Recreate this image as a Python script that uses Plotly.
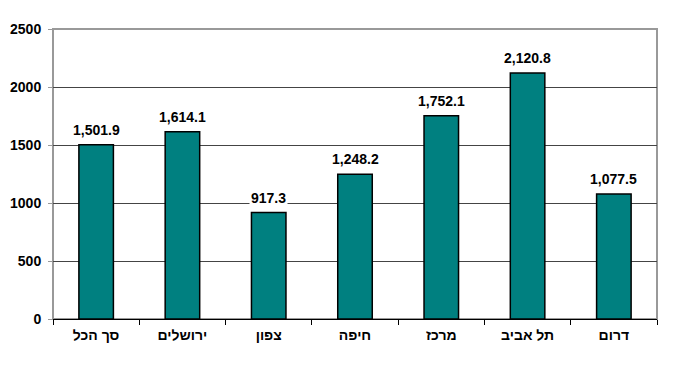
import plotly.graph_objects as go

categories = ["סך הכל", "ירושלים", "צפון", "חיפה", "מרכז", "תל אביב", "דרום"]
values = [1501.9, 1614.1, 917.3, 1248.2, 1752.1, 2120.8, 1077.5]
y_ticks = [0, 500, 1000, 1500, 2000, 2500]

FONT = "Liberation Sans, Arial, sans-serif"

fig = go.Figure()
fig.add_trace(go.Bar(
    x=categories, y=values,
    marker=dict(color="#008080", line=dict(color="#000000", width=1.5)),
    width=0.4,
    hoverinfo="skip",
))

annotations = []
for c, v in zip(categories, values):
    annotations.append(dict(
        x=c, y=v, xref="x", yref="y",
        text="<b>{:,.1f}</b>".format(v),
        showarrow=False, yanchor="bottom", yshift=5,
        bgcolor="#ffffff", borderpad=1,
        font=dict(family=FONT, size=14, color="#000000"),
    ))

fig.update_layout(
    width=664, height=351,
    margin=dict(l=45, r=15, t=21, b=40),
    paper_bgcolor="#ffffff", plot_bgcolor="#ffffff",
    showlegend=False,
    annotations=annotations,
    shapes=[dict(type="rect", xref="paper", yref="paper", x0=0, x1=1, y0=0, y1=1,
                 line=dict(color="#999999", width=2), layer="below")],
)
fig.update_xaxes(
    type="category", automargin=False,
    showline=True, linecolor="#000000", linewidth=1,
    ticks="outside", tickson="boundaries", ticklen=5, tickcolor="#000000",
    tickfont=dict(family=FONT, size=14, color="#000000", weight="bold"),
    ticklabelstandoff=3,
    showgrid=False,
)
fig.update_yaxes(
    range=[0, 2500], tickvals=y_ticks, ticktext=[str(t) for t in y_ticks],
    automargin=False,
    showline=False,
    ticks="outside", ticklen=4, tickcolor="#999999",
    tickfont=dict(family=FONT, size=14, color="#000000", weight="bold"),
    ticklabelstandoff=4,
    showgrid=True, gridcolor="#444444", gridwidth=1,
    zeroline=False,
)
fig.write_html("out.html")
